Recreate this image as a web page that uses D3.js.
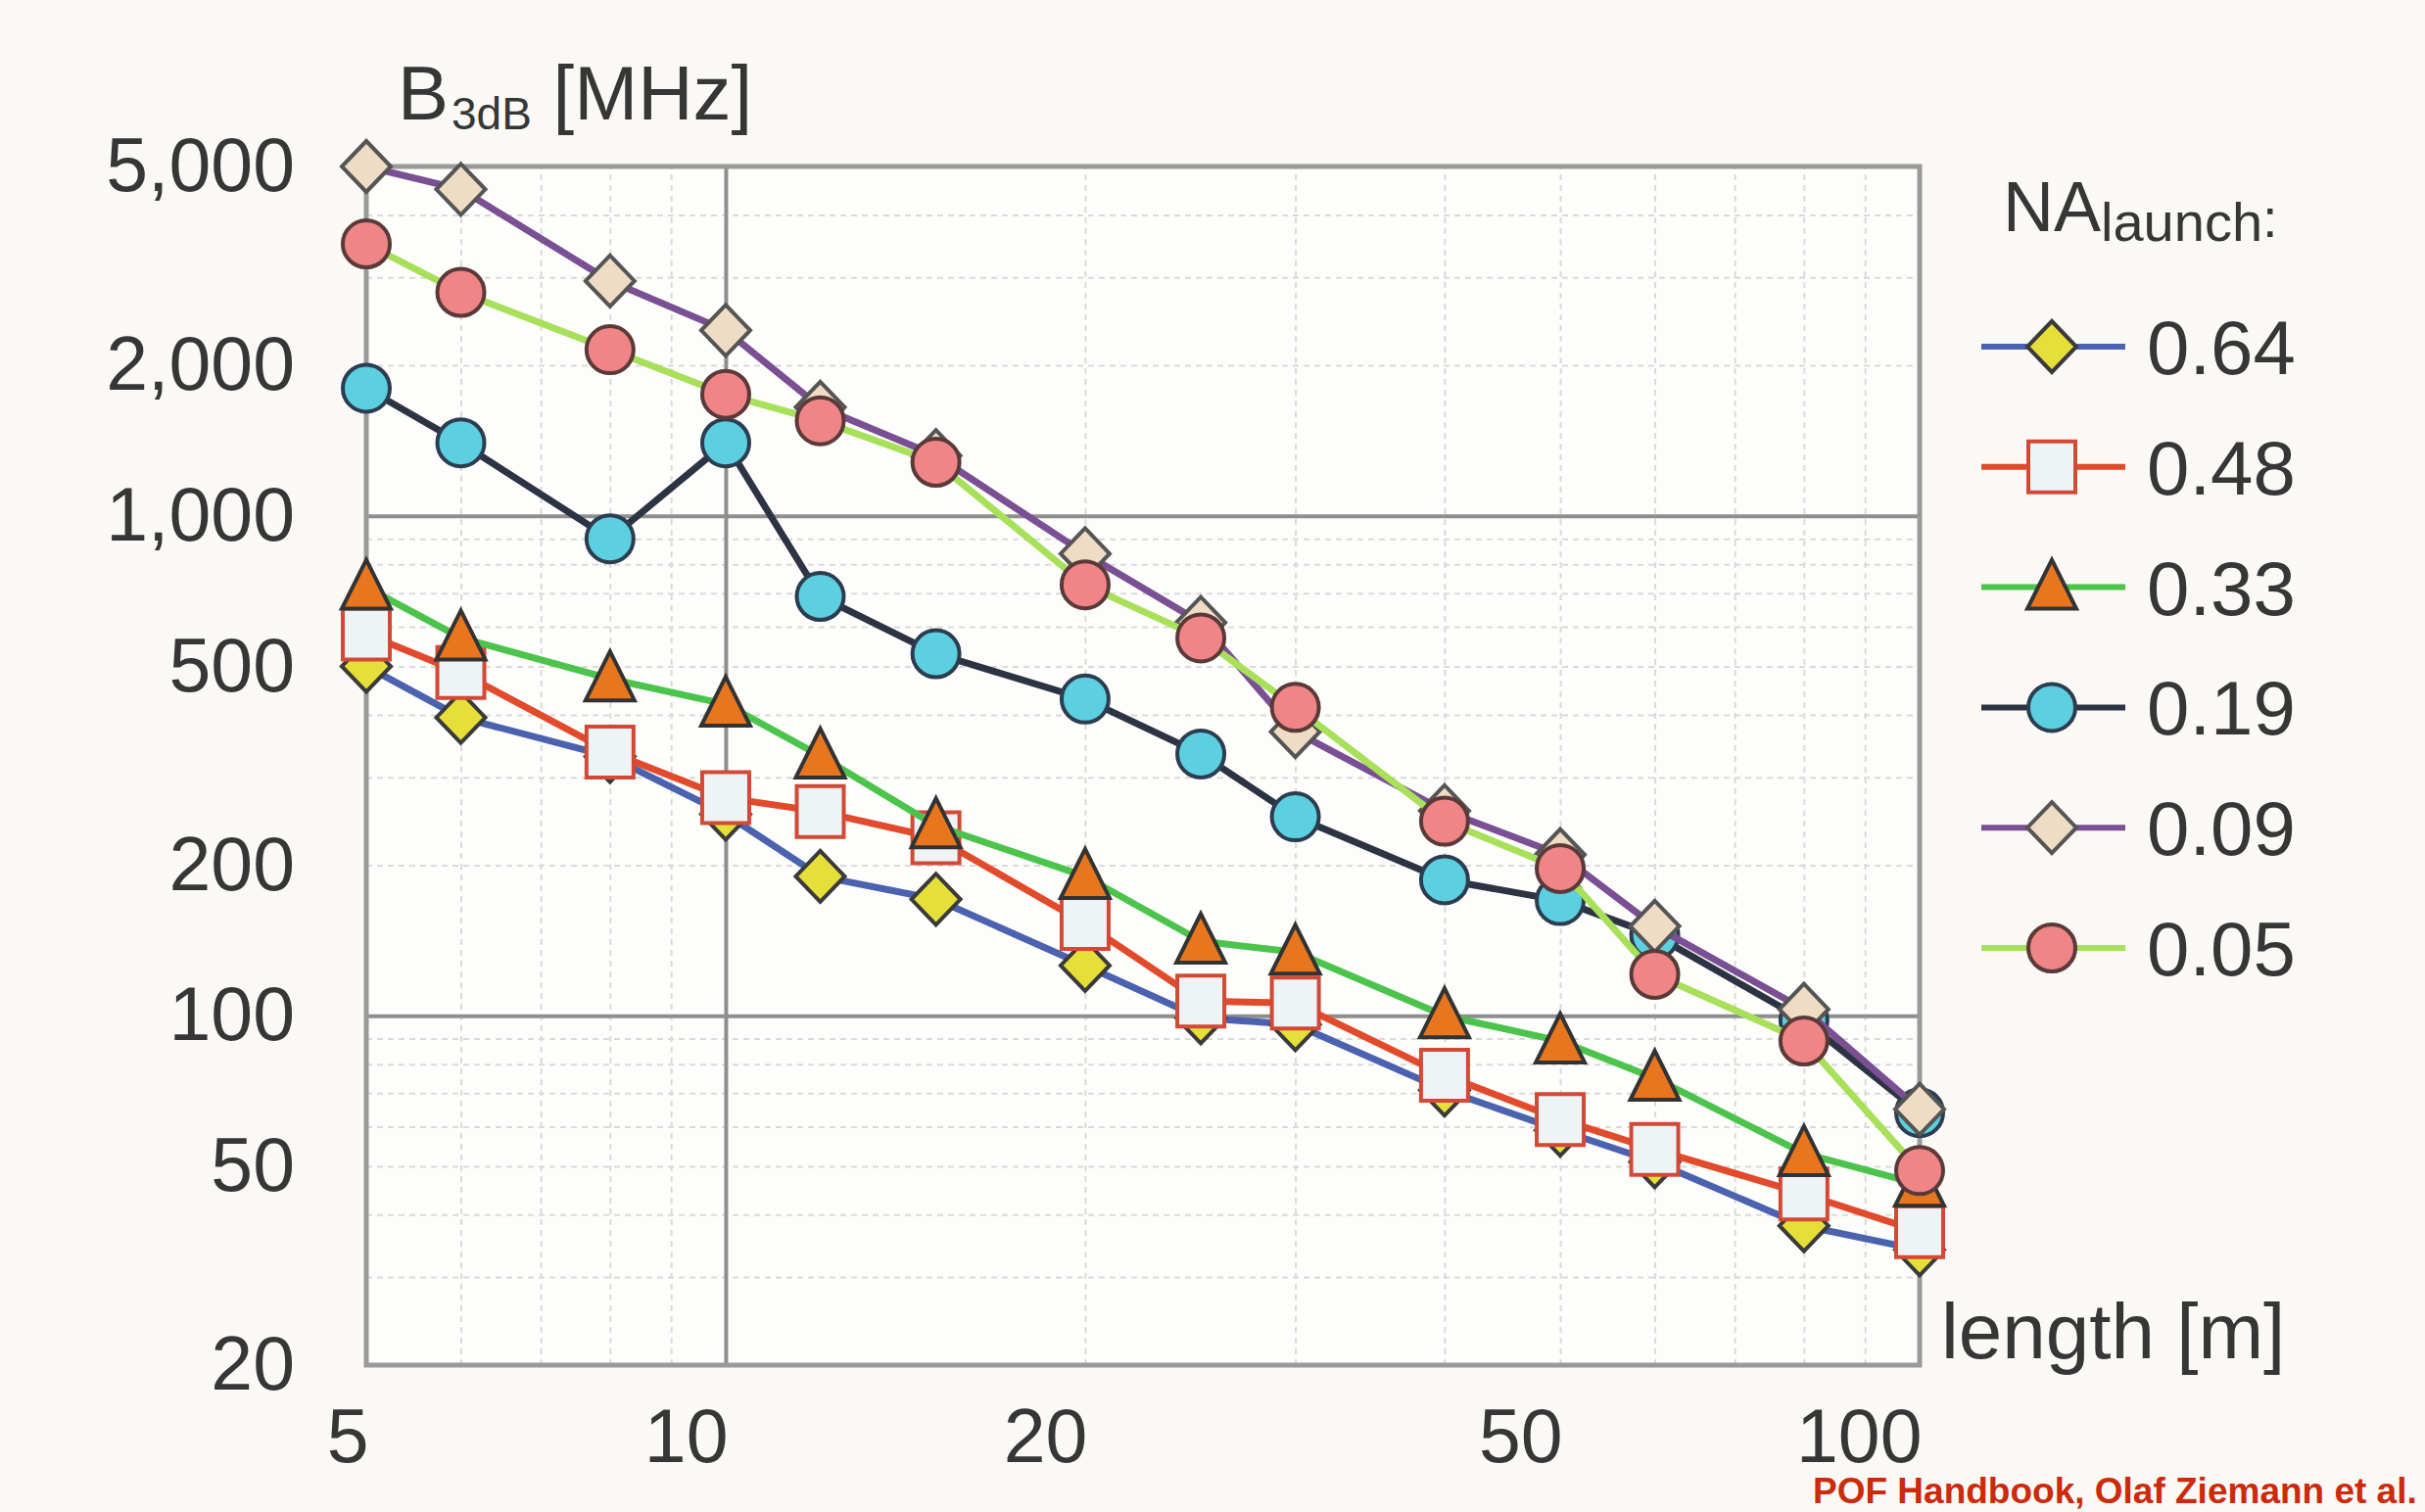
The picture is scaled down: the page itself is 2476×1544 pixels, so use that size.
<!DOCTYPE html>
<html lang="en">
<head>
    <meta charset="UTF-8">
    <title>B3dB vs length</title>
    <style>
        body {
            margin: 0;
            padding: 0;
            background-color: #faf9f5;
        }
        svg text {
            font-family: "Liberation Sans", Arial, Helvetica, sans-serif;
            fill: #363636;
        }
    </style>
    <script src="https://d3js.org/d3.v7.min.js"></script>
</head>
<body>
    <script>
        // --- data ---
        const lengths = [5, 6, 8, 10, 12, 15, 20, 25, 30, 40, 50, 60, 80, 100];
        const naLaunch = ["0.64", "0.48", "0.33", "0.19", "0.09", "0.05"];
        const bw064 = [500, 395, 330, 253, 190, 171, 126, 99, 96, 71, 59, 51, 38, 34];
        const bw048 = [580, 486, 337, 273, 256, 227, 153, 107, 106, 76, 62, 54, 44, 37];
        const bw033 = [720, 570, 472, 420, 331, 240, 190, 141, 134, 100, 89, 75, 53, 46];
        const bw019 = [1800, 1400, 900, 1400, 690, 530, 430, 334, 250, 187, 170, 145, 98, 64];
        const bw009 = [5000, 4500, 2950, 2350, 1650, 1320, 840, 612, 370, 257, 210, 151, 103, 65];
        const bw005 = [3500, 2800, 2150, 1750, 1550, 1280, 728, 570, 414, 245, 197, 121, 89, 49];

        // tick values
        const xTicks = [5, 10, 20, 50, 100];
        const xMajorGrid = [10];
        const xMinorGrid = [6, 7, 8, 9, 20, 30, 40, 50, 60, 70, 80, 90];
        const yTicks = [20, 50, 100, 200, 500, 1000, 2000, 5000];
        const yMajorGrid = [100, 1000];
        const yMinorGrid = [30, 40, 50, 60, 70, 80, 90, 200, 300, 400, 500, 600, 700, 800, 900, 2000, 3000, 4000];

        // --- layout ---
        const width = 2476;
        const height = 1544;
        const plot = { left: 374, right: 1960, top: 170, bottom: 1394 };

        const x = d3.scaleLog().domain([5, 100]).range([plot.left, plot.right]);
        const y = d3.scaleLog().domain([20, 5000]).range([plot.bottom, plot.top]);

        const series = [
            { name: naLaunch[0], values: bw064, line: "#4a62b0", fill: "#e6df3a", stroke: "#3a3a3a", shape: "diamond" },
            { name: naLaunch[1], values: bw048, line: "#e24a2c", fill: "#eef3f6", stroke: "#d24a36", shape: "square" },
            { name: naLaunch[2], values: bw033, line: "#4cc44c", fill: "#e8761e", stroke: "#333333", shape: "triangle" },
            { name: naLaunch[3], values: bw019, line: "#2c3444", fill: "#5ccfe0", stroke: "#2d3d50", shape: "circle" },
            { name: naLaunch[4], values: bw009, line: "#7a4f94", fill: "#efdcc4", stroke: "#555555", shape: "diamond" },
            { name: naLaunch[5], values: bw005, line: "#a8e05a", fill: "#f08588", stroke: "#5a3a38", shape: "circle" }
        ];

        // marker outlines
        const shapes = {
            diamond: "M0,-26L25,0L0,26L-25,0Z",
            square: "M-24,-26H24V26H-24Z",
            triangle: "M0,-28L25,22H-25Z"
        };

        const svg = d3.select("body").append("svg")
            .attr("width", width)
            .attr("height", height);

        svg.append("rect")
            .attr("width", width)
            .attr("height", height)
            .attr("fill", "#faf9f5");

        svg.append("rect")
            .attr("x", plot.left)
            .attr("y", plot.top)
            .attr("width", plot.right - plot.left)
            .attr("height", plot.bottom - plot.top)
            .attr("fill", "#fdfdfb");

        // grid lines drawn with axes
        const gridH = plot.bottom - plot.top;
        const gridW = plot.right - plot.left;

        function grid(axis, transform, color, w, dash) {
            const g = svg.append("g").attr("transform", transform).call(axis);
            g.select(".domain").remove();
            g.selectAll("line")
                .attr("stroke", color)
                .attr("stroke-width", w)
                .attr("stroke-dasharray", dash);
            g.selectAll("text").remove();
        }

        grid(d3.axisBottom(x).tickValues(xMinorGrid).tickSize(-gridH).tickFormat(""),
            `translate(0,${plot.bottom})`, "#dadada", 2, "6,5");
        grid(d3.axisLeft(y).tickValues(yMinorGrid).tickSize(-gridW).tickFormat(""),
            `translate(${plot.left},0)`, "#dadada", 2, "6,5");
        grid(d3.axisBottom(x).tickValues(xMajorGrid).tickSize(-gridH).tickFormat(""),
            `translate(0,${plot.bottom})`, "#8e8e8e", 4, null);
        grid(d3.axisLeft(y).tickValues(yMajorGrid).tickSize(-gridW).tickFormat(""),
            `translate(${plot.left},0)`, "#8e8e8e", 4, null);

        // frame
        svg.append("rect")
            .attr("x", plot.left)
            .attr("y", plot.top)
            .attr("width", gridW)
            .attr("height", gridH)
            .attr("fill", "none")
            .attr("stroke", "#9a9a9a")
            .attr("stroke-width", 5);

        // tick labels
        const yAxis = svg.append("g")
            .attr("transform", `translate(${plot.left},0)`)
            .call(d3.axisLeft(y).tickValues(yTicks).tickSize(0).tickPadding(73).tickFormat(d3.format(",")));
        yAxis.select(".domain").remove();
        yAxis.selectAll("text")
            .style("font-size", "77px")
            .attr("fill", "#363636");

        const xAxis = svg.append("g")
            .attr("transform", `translate(0,${plot.bottom})`)
            .call(d3.axisBottom(x).tickValues(xTicks).tickSize(0).tickPadding(44).tickFormat(d3.format("d")));
        xAxis.select(".domain").remove();
        xAxis.selectAll("text")
            .style("font-size", "77px")
            .attr("text-anchor", "end")
            .attr("dx", 2)
            .attr("fill", "#363636");

        // axis titles
        const yTitle = svg.append("text").attr("x", 406).attr("y", 122);
        yTitle.append("tspan").style("font-size", "78px").text("B");
        yTitle.append("tspan").style("font-size", "46px").attr("dx", 3).attr("dy", 10).text("3dB");
        yTitle.append("tspan").style("font-size", "78px").attr("dy", -10).text(" [MHz]");

        svg.append("text")
            .attr("x", 1982)
            .attr("y", 1387)
            .style("font-size", "80px")
            .text("length [m]");

        // series
        const line = d3.line()
            .x((d, i) => x(lengths[i]))
            .y(d => y(d));

        function drawMarker(sel, s) {
            if (s.shape === "circle") {
                sel.append("circle").attr("r", 24);
            } else {
                sel.append("path").attr("d", shapes[s.shape]);
            }
            sel.selectAll("circle, path")
                .attr("fill", s.fill)
                .attr("stroke", s.stroke)
                .attr("stroke-width", 4);
        }

        series.forEach(s => {
            const g = svg.append("g");
            g.append("path")
                .datum(s.values)
                .attr("d", line)
                .attr("fill", "none")
                .attr("stroke", s.line)
                .attr("stroke-width", 7)
                .attr("stroke-linejoin", "round");

            g.selectAll("g.pt")
                .data(s.values)
                .enter().append("g")
                .attr("class", "pt")
                .attr("transform", (d, i) => `translate(${x(lengths[i])},${y(d)})`)
                .each(function () { drawMarker(d3.select(this), s); });
        });

        // legend
        const legTitle = svg.append("text").attr("x", 2045).attr("y", 236);
        legTitle.append("tspan").style("font-size", "72px").text("NA");
        legTitle.append("tspan").style("font-size", "56px").attr("dy", 10).text("launch");
        legTitle.append("tspan").style("font-size", "56px").attr("dy", -4).text(":");

        const legend = svg.append("g");
        series.forEach((s, i) => {
            const rowY = 354 + i * 122.8;
            const row = legend.append("g").attr("transform", `translate(0,${rowY})`);
            row.append("line")
                .attr("x1", 2023).attr("x2", 2170)
                .attr("stroke", s.line)
                .attr("stroke-width", 6);
            const m = row.append("g").attr("transform", "translate(2095,0)");
            drawMarker(m, s);
            row.append("text")
                .attr("x", 2192)
                .attr("y", 28)
                .style("font-size", "78px")
                .text(s.name);
        });

        // source note
        svg.append("text")
            .attr("x", 1851)
            .attr("y", 1535)
            .style("font-size", "37px")
            .style("font-weight", "bold")
            .style("fill", "#cc2a0c")
            .text("POF Handbook, Olaf Ziemann et al.");
    </script>
</body>
</html>
